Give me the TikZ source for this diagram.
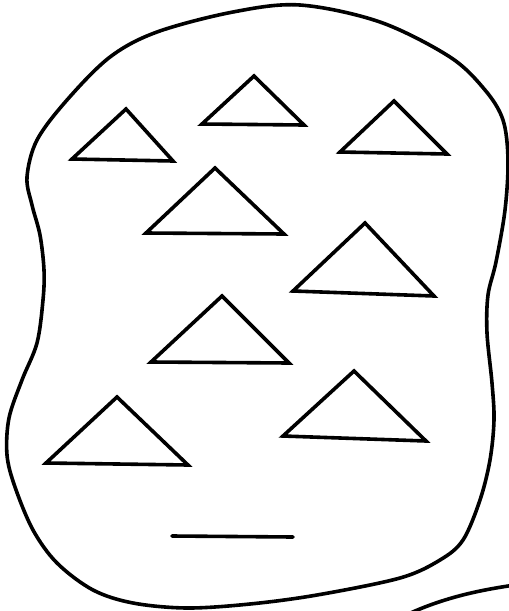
\documentclass[tikz,border=0pt]{standalone}
\begin{document}
\begin{tikzpicture}[x=1pt,y=-1pt,
  ink/.style={draw=black,line width=3.6pt,line join=miter,line cap=round},
  tri/.style={ink}]
\useasboundingbox (0,0) rectangle (509,611);
\clip (0,0) rectangle (509,611);
% outline blob
\draw[ink] plot[smooth cycle,tension=0.55] coordinates {
  (300,5) (380,22) (450,57) (485,90) (503,120) (508,160) (505,210) (496,262)
  (488,295) (487,333) (492,383) (494,420) (490,460) (480,500) (463,540)
  (440,560) (400,578) (317,595) (250,604) (187,608) (133,603) (93,590)
  (57,563) (33,530) (15,487) (7,455) (9,418) (22,380) (37,343) (43,300)
  (44,270) (40,235) (32,205) (27,177) (37,140) (67,100) (110,57) (157,32) (233,12)};
% triangles
\draw[tri] (126,109) -- (72,159) -- (173,161) -- cycle;
\draw[tri] (254,76) -- (202,124) -- (304,125) -- cycle;
\draw[tri] (394,101) -- (340,152) -- (447,154) -- cycle;
\draw[tri] (215,168) -- (146,233) -- (284,234) -- cycle;
\draw[tri] (365,223) -- (293,291) -- (434,296) -- cycle;
\draw[tri] (222,296) -- (151,362) -- (289,363) -- cycle;
\draw[tri] (117,397) -- (46,463) -- (188,465) -- cycle;
\draw[tri] (354,371) -- (283,436) -- (426,441) -- cycle;
% short line
\draw[ink] (172,536) -- (293,537);
% corner curve
\draw[ink] (400,618) .. controls (440,598) and (480,590) .. (515,585);
\end{tikzpicture}
\end{document}
